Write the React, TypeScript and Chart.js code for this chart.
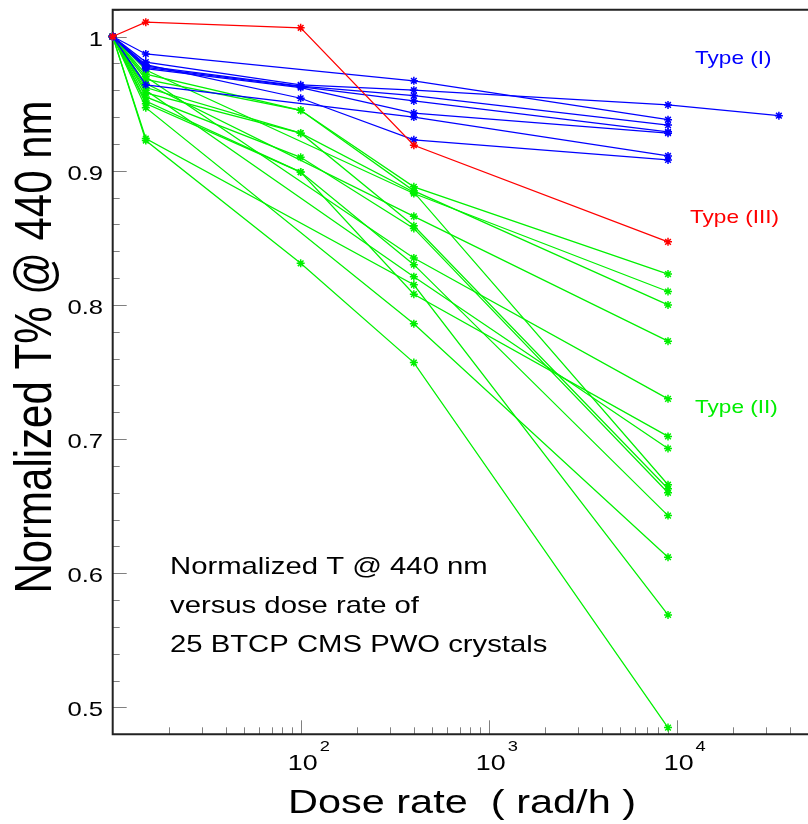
import React, { useEffect, useRef } from 'react';
import { Chart, registerables } from 'chart.js';

Chart.register(...registerables);

// Dose rates (rad/h) at which the transmission was measured
const doseRates = [10, 15, 100, 400, 9000, 35000];

// Normalized transmission at 440 nm, one row per crystal (null = not measured)
const typeI: (number | null)[][] = [
  [1, 0.987, null, 0.967, 0.938, null],
  [1, 0.981, 0.964, 0.96, 0.949, 0.941],
  [1, 0.978, 0.963, 0.956, 0.934, null],
  [1, 0.977, null, 0.952, 0.929, null],
  [1, 0.976, 0.962, 0.943, 0.928, null],
  [1, 0.964, null, 0.94, 0.911, null],
  [1, 0.979, 0.954, 0.923, 0.908, null],
];

const typeII: (number | null)[][] = [
  [1, 0.972, 0.945, 0.888, 0.823, null],
  [1, 0.968, 0.945, 0.885, 0.8, null],
  [1, 0.975, null, 0.883, 0.81, null],
  [1, 0.958, 0.928, 0.884, 0.666, null],
  [1, 0.965, null, 0.866, 0.773, null],
  [1, 0.962, 0.928, 0.859, 0.663, null],
  [1, 0.955, 0.91, 0.857, 0.66, null],
  [1, 0.97, null, 0.835, 0.73, null],
  [1, 0.952, 0.899, 0.83, 0.643, null],
  [1, 0.96, null, 0.821, 0.693, null],
  [1, 0.924, null, 0.815, 0.569, null],
  [1, 0.95, 0.899, 0.808, 0.702, null],
  [1, 0.947, null, 0.786, 0.612, null],
  [1, 0.9225, 0.831, 0.757, 0.485, null],
];

const typeIII: (number | null)[][] = [
  [1, 1.0107, 1.0065, 0.919, 0.847, null],
];

const yTickValues = [0.5, 0.6, 0.7, 0.8, 0.9, 1];
const yTickLabels = ['0.5', '0.6', '0.7', '0.8', '0.9', '1'];
const xTickExponents = [2, 3, 4];

const xTitle = 'Dose rate  ( rad/h )';
const yTitle = 'Normalized T% @ 440 nm';
const noteLines = ['Normalized T @ 440 nm', 'versus dose rate of', '25 BTCP CMS PWO crystals'];
const groupLabels = [
  { text: 'Type (I)', color: '#0000ff', x: 695, y: 64 },
  { text: 'Type (III)', color: '#ff0000', x: 690, y: 223 },
  { text: 'Type (II)', color: '#00ee00', x: 695, y: 413 },
];

const BLUE = '#0000ff';
const RED = '#ff0000';
const GREEN = '#00f000';
const FONT = '"Liberation Sans", Arial, Helvetica, sans-serif';
const SX = 1.22; // horizontal widening of the glyphs

function drawText(
  ctx: CanvasRenderingContext2D,
  s: string,
  x: number,
  y: number,
  size: number,
  color: string,
  align: CanvasTextAlign,
  rot = 0,
) {
  ctx.save();
  ctx.translate(x, y);
  ctx.scale(SX, 1);
  if (rot) ctx.rotate(rot);
  ctx.font = `${size}px ${FONT}`;
  ctx.fillStyle = color;
  ctx.textAlign = align;
  ctx.textBaseline = 'alphabetic';
  ctx.fillText(s, 0, 0);
  ctx.restore();
}

const framePlugin = {
  id: 'rootFrame',
  beforeDatasetsDraw(chart: any) {
    const { ctx, chartArea: a } = chart;
    const xs = chart.scales.x;
    const ys = chart.scales.y;
    ctx.save();

    // tick marks, pointing into the frame
    ctx.strokeStyle = '#808080';
    ctx.lineWidth = 1;
    ctx.beginPath();
    for (let k = 24; k <= 51; k++) {
      const v = k * 0.02;
      const p = Math.round(ys.getPixelForValue(v)) + 0.5;
      const major = k % 5 === 0;
      ctx.moveTo(a.left, p);
      ctx.lineTo(a.left + (major ? 14 : 7), p);
    }
    for (let e = 1; e <= 4; e++) {
      for (let m = 1; m <= 9; m++) {
        const v = m * Math.pow(10, e);
        if (v <= xs.min || v >= xs.max) continue;
        const p = Math.round(xs.getPixelForValue(v)) + 0.5;
        ctx.moveTo(p, a.bottom);
        ctx.lineTo(p, a.bottom - (m === 1 ? 14 : 7));
      }
    }
    ctx.stroke();

    // frame: left, bottom and top edges
    ctx.strokeStyle = '#222222';
    ctx.lineWidth = 2;
    ctx.beginPath();
    ctx.moveTo(a.right, a.top);
    ctx.lineTo(a.left, a.top);
    ctx.lineTo(a.left, a.bottom);
    ctx.lineTo(a.right, a.bottom);
    ctx.stroke();

    // y tick labels
    yTickValues.forEach((v, i) => {
      const p = ys.getPixelForValue(v);
      drawText(ctx, yTickLabels[i], 103, p + 9, 21, '#000', 'right');
    });

    // x tick labels as powers of ten
    xTickExponents.forEach((e) => {
      const p = xs.getPixelForValue(Math.pow(10, e));
      drawText(ctx, '10', p + 17, 770, 22, '#000', 'right');
      drawText(ctx, String(e), p + 19, 751, 15, '#000', 'left');
    });

    // axis titles
    drawText(ctx, xTitle, 462, 813, 34, '#000', 'center');
    drawText(ctx, yTitle, 51, 347, 42, '#000', 'center', -Math.PI / 2);

    // group labels
    groupLabels.forEach((g) => drawText(ctx, g.text, g.x, g.y, 18.5, g.color, 'left'));

    // description
    noteLines.forEach((s, i) => drawText(ctx, s, 170, 574 + i * 39, 24, '#000', 'left'));

    ctx.restore();
  },
};

function toPoints(row: (number | null)[]) {
  return doseRates
    .map((x, i) => ({ x, y: row[i] }))
    .filter((p) => p.y !== null);
}

function makeSet(row: (number | null)[], color: string) {
  return {
    data: toPoints(row),
    borderColor: color,
    backgroundColor: color,
    borderWidth: 1.25,
    pointStyle: 'star',
    pointRadius: 4,
    pointBorderWidth: 1.5,
    pointBorderColor: color,
    pointBackgroundColor: color,
    tension: 0,
    fill: false,
    clip: false,
  };
}

export default function App() {
  const canvasRef = useRef<HTMLCanvasElement | null>(null);

  useEffect(() => {
    if (!canvasRef.current) return;
    // earlier datasets are painted on top
    const datasets = [
      ...typeIII.map((r) => makeSet(r, RED)),
      ...typeI.map((r) => makeSet(r, BLUE)),
      ...typeII.map((r) => makeSet(r, GREEN)),
    ];
    const chart = new Chart(canvasRef.current, {
      type: 'line',
      data: { datasets: datasets as any },
      options: {
        animation: false,
        responsive: false,
        maintainAspectRatio: false,
        events: [],
        layout: { autoPadding: false, padding: { left: 112.7, top: 9.7, right: 0, bottom: 89.7 } },
        plugins: { legend: { display: false }, tooltip: { enabled: false } },
        scales: {
          x: { type: 'logarithmic', min: 10, max: 50000, display: false },
          y: { type: 'linear', min: 0.48, max: 1.02, display: false },
        },
      },
      plugins: [framePlugin],
    } as any);
    return () => chart.destroy();
  }, []);

  return (
    <div style={{ position: 'fixed', left: 0, top: 0, width: 808, height: 824, background: '#fff' }}>
      <canvas ref={canvasRef} width={808} height={824} style={{ display: 'block' }} />
    </div>
  );
}
